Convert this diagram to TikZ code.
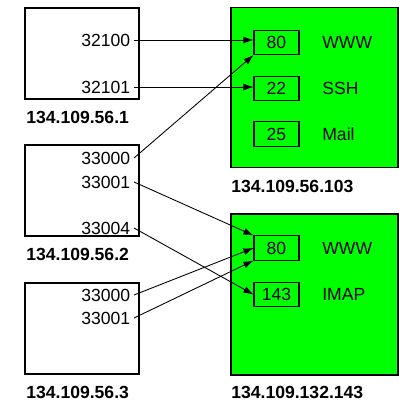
\documentclass[tikz,border=0pt]{standalone}
\usepackage{fontspec}
\setmainfont{Liberation Sans}
\usetikzlibrary{arrows.meta}
\definecolor{srvgreen}{RGB}{0,255,0}

\begin{document}
\begin{tikzpicture}%
  [x=0.02cm,y=-0.02cm,
   host/.style=
    {draw,line width=0.6pt,minimum width=2.28cm,minimum height=1.82cm},
   server/.style=
    {draw,line width=0.6pt,fill=srvgreen,minimum width=3.34cm,minimum height=3.2cm},
   service/.style=
    {draw,line width=0.6pt,minimum width=0.9cm,minimum height=0.46cm,font=\fontsize{10}{12}\selectfont},
   port/.style={anchor=east,inner sep=2pt,font=\fontsize{10}{12}\selectfont},
   proto/.style={anchor=west,inner sep=0pt,font=\fontsize{10}{12}\selectfont},
   addr/.style={anchor=west,inner sep=0pt,font=\fontsize{10}{12}\selectfont\bfseries},
   conn/.style={line width=0.5pt,-{Latex[length=2mm,width=1.4mm]}}
  ]
  \useasboundingbox (0,0) rectangle (399,400);
  \node[host] (h1) at (82,53.5) {};
  \node[host] (h2) at (82,190.5) {};
  \node[host] (h3) at (82,328.5) {};
  \node[addr] (a1) at (26,117.5) {134.109.56.1};
  \node[addr] (a2) at (26,254) {134.109.56.2};
  \node[addr] (a3) at (26,392.5) {134.109.56.3};
  \node[port] (h1p1) at (134,40) {32100};
  \node[port] (h1p2) at (134,87) {32101};
  \node[port] (h2p1) at (134,158) {33000};
  \node[port] (h2p2) at (134,182) {33001};
  \node[port] (h2p3) at (134,228) {33004};
  \node[port] (h3p1) at (134,295) {33000};
  \node[port] (h3p2) at (134,318) {33001};
  \node[server] (s1) at (314.5,87.5) {};
  \node[server,minimum height=3.22cm] (s2) at (314.5,294.5) {};
  \node[addr] (a4) at (231,186.5) {134.109.56.103};
  \node[addr] (a5) at (231,392.5) {134.109.132.143};
  \node[service] (www1) at (276.5,42.5) {80};
  \node[service] (ssh) at (276.5,88.5) {22};
  \node[service] (mail) at (276.5,134) {25};
  \node[service] (www2) at (276.5,248) {80};
  \node[service] (imap) at (276.5,294.5) {143};
  \node[proto] at (322,42.5) {WWW};
  \node[proto] at (322,88.5) {SSH};
  \node[proto] at (322,134) {Mail};
  \node[proto] at (322,248) {WWW};
  \node[proto] at (322,294.5) {IMAP};
  \draw[conn] (h1p1.east) -- (h1p1.east -| www1.west);
  \draw[conn] (h1p2.east) -- (h1p2.east -| ssh.west);
  \draw[conn] (h2p1.east) -- (www1.south west);
  \draw[conn] (h2p2.east) -- (www2.north west);
  \draw[conn] (h2p3.east) -- (imap.west);
  \draw[conn] (h3p1.east) -- (www2.west);
  \draw[conn] (h3p2.east) -- (www2.south west);
\end{tikzpicture}
\end{document}
